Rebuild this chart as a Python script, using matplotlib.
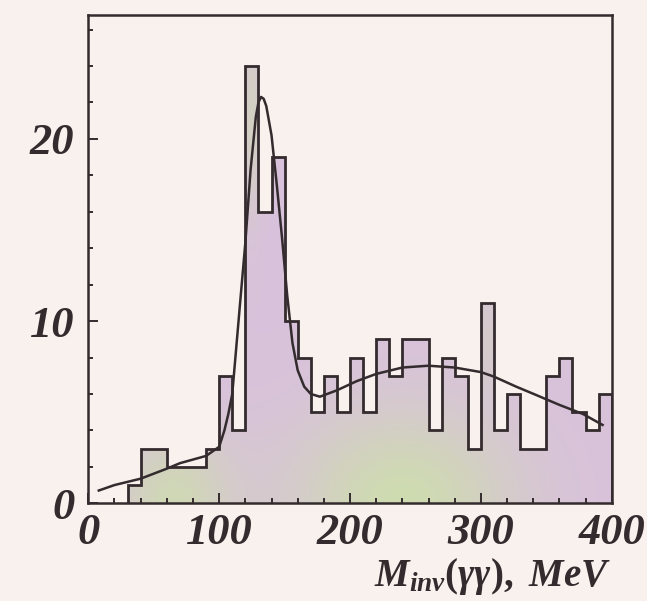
import matplotlib
matplotlib.use("Agg")
import matplotlib.pyplot as plt
import numpy as np
from matplotlib.ticker import MultipleLocator

plt.rcParams['mathtext.fontset'] = 'custom'
plt.rcParams['mathtext.it'] = 'Liberation Serif:italic:bold'
plt.rcParams['mathtext.rm'] = 'Liberation Serif:bold'
plt.rcParams['mathtext.default'] = 'it'

# histogram, 10 MeV bins starting at 30 MeV
BIN_EDGES = np.arange(30, 410, 10)
COUNTS = [1, 3, 3, 2, 2, 2, 3, 7, 4, 24, 16, 19, 10, 8, 5,
          7, 5, 8, 5, 9, 7, 9, 9, 4, 8, 7, 3, 11, 4, 6,
          3, 3, 7, 8, 5, 4, 6]

# fit curve
FIT_X = [8, 20, 40, 60, 70, 90, 100, 104, 107, 110, 113, 116, 120, 124, 128,
         130, 132, 134, 136, 140, 144, 148, 152, 156, 160, 165, 170, 177, 190,
         205, 220, 240, 260, 280, 300, 310, 327, 342, 360, 378, 393]
FIT_Y = [0.7, 1.0, 1.35, 1.9, 2.2, 2.6, 3.1, 4.0, 4.9, 6.0, 8.5, 11.0, 14.3, 18.3, 21.2,
         22.0, 22.3, 22.2, 21.8, 20.2, 17.5, 14.6, 11.4, 8.8, 7.3, 6.4, 6.0, 5.85, 6.2,
         6.7, 7.1, 7.45, 7.55, 7.45, 7.2, 6.95, 6.4, 5.95, 5.4, 4.9, 4.3]

X_TICKS = [0, 100, 200, 300, 400]
Y_TICKS = [0, 10, 20]
XLABEL = r"$M_{inv}(\gamma\gamma),\ MeV$"

PAPER = "#f8f1ee"
INK = "#332b2d"
XMAX, YMAX = 400, 26.8

fig = plt.figure(figsize=(6.47, 6.01), dpi=100, facecolor=PAPER)
ax = fig.add_axes([0.1365, 0.1626, 0.809, 0.8125], facecolor=PAPER)

# fill: pastel purple / green mix like the scanned halftone
gx, gy = np.meshgrid(np.linspace(0, XMAX, 400), np.linspace(0, YMAX, 270))
purple = np.array([0.85, 0.76, 0.86])
green = np.array([0.81, 0.86, 0.69])
w = (np.exp(-((gx - 240) / 85) ** 2 - (gy / 5.0) ** 2)
     + 0.85 * np.exp(-((gx - 65) / 45) ** 2 - (gy / 4.0) ** 2)
     + 0.6 * np.exp(-((gx - 125) / 7) ** 2 - ((gy - 21) / 5) ** 2)
     + 0.35 * np.exp(-((gx - 305) / 10) ** 2 - ((gy - 9) / 3) ** 2))
w = np.clip(w, 0, 1)[..., None]
img = (1 - w) * purple + w * green

clip = ax.stairs(COUNTS, BIN_EDGES, baseline=0, fill=True,
                 facecolor="none", edgecolor="none")
im = ax.imshow(img, extent=[0, XMAX, 0, YMAX], origin="lower",
               aspect="auto", zorder=1, interpolation="bilinear")
im.set_clip_path(clip)

ax.stairs(COUNTS, BIN_EDGES, baseline=0, fill=False, color=INK,
          linewidth=2.0, zorder=3)
ax.plot(FIT_X, FIT_Y, color=INK, linewidth=1.8, zorder=4)

ax.set_xlim(0, XMAX)
ax.set_ylim(0, YMAX)
ax.set_xticks(X_TICKS)
ax.set_yticks(Y_TICKS)
ax.xaxis.set_minor_locator(MultipleLocator(20))
ax.yaxis.set_minor_locator(MultipleLocator(2))
ax.tick_params(which="both", direction="in", top=False, right=False,
               color=INK, width=1.4)
ax.tick_params(which="major", length=7)
ax.tick_params(which="minor", length=3.5)
ax.tick_params(axis="x", pad=7)
ax.tick_params(axis="y", pad=10)
for lab in ax.get_xticklabels() + ax.get_yticklabels():
    lab.set_fontfamily("Liberation Serif")
    lab.set_fontstyle("italic")
    lab.set_fontweight("bold")
    lab.set_fontsize(32)
    lab.set_color(INK)
for sp in ax.spines.values():
    sp.set_color(INK)
    sp.set_linewidth(1.8)

ax.set_xlabel(XLABEL, fontsize=28, color=INK, loc="right", labelpad=2)

fig.savefig("out.png", dpi=100, facecolor=PAPER)
